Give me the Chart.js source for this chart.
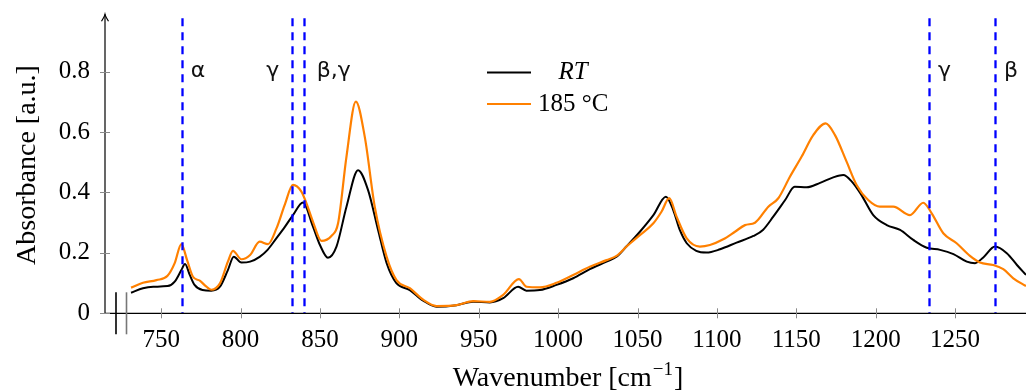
<!DOCTYPE html>
<html>
<head>
<meta charset="utf-8">
<script src="https://cdn.jsdelivr.net/npm/chart.js@4/dist/chart.umd.min.js"></script>
<style>
html,body{margin:0;padding:0;background:#fff;}
canvas{display:block;}
</style>
</head>
<body>
<canvas id="c" width="1026" height="392"></canvas>
<script>
// ---- data ----
const wavenumbersRT = [731, 738.5, 745, 754, 758.5, 762.7, 765, 768, 771, 776, 781.5, 787, 792, 795.7, 800.5, 806, 812, 817, 822.5, 828, 833, 839.3, 845.6, 850, 855, 860.4, 866.7, 874, 880.3, 886.6, 892, 898, 906.6, 915, 923.4, 936, 946.5, 957, 965.4, 974.8, 980, 988.5, 999, 1009.5, 1020, 1030.5, 1036.8, 1043, 1051.5, 1060, 1067.9, 1072.5, 1076.7, 1081, 1087, 1093.5, 1102, 1112.4, 1123, 1129, 1135.5, 1143, 1149, 1156.5, 1165, 1173.3, 1179.6, 1185, 1191, 1198.5, 1207, 1215.4, 1223.7, 1232.2, 1240.6, 1249, 1257.4, 1262.6, 1267.8, 1275.2, 1282.6, 1289, 1294.7];
const absorbanceRT = [0.068, 0.083, 0.088, 0.090, 0.105, 0.143, 0.163, 0.127, 0.094, 0.077, 0.075, 0.088, 0.143, 0.187, 0.168, 0.171, 0.187, 0.210, 0.248, 0.287, 0.325, 0.367, 0.287, 0.226, 0.184, 0.221, 0.353, 0.474, 0.408, 0.276, 0.166, 0.101, 0.077, 0.042, 0.022, 0.027, 0.038, 0.036, 0.050, 0.088, 0.075, 0.077, 0.094, 0.116, 0.146, 0.171, 0.187, 0.221, 0.270, 0.325, 0.386, 0.342, 0.275, 0.232, 0.207, 0.201, 0.212, 0.234, 0.256, 0.276, 0.320, 0.375, 0.419, 0.417, 0.432, 0.450, 0.458, 0.436, 0.392, 0.325, 0.292, 0.276, 0.243, 0.217, 0.210, 0.196, 0.171, 0.166, 0.185, 0.221, 0.199, 0.160, 0.127];

const wavenumbers185 = [731, 738.5, 747, 754, 758.5, 762.7, 766.3, 770, 774.3, 778.5, 781.6, 787, 792, 795.2, 800.5, 806, 812, 817.3, 822.6, 827.8, 833, 838.3, 841.5, 845.6, 850.9, 857.2, 861.4, 866.7, 872.6, 878.2, 884.5, 892, 898.2, 906.6, 915, 923.4, 936, 946.5, 957, 965.4, 975.3, 980.1, 988.5, 999, 1009.5, 1020, 1030.5, 1036.8, 1043.1, 1051.5, 1060, 1065.2, 1070, 1074.6, 1081, 1089.3, 1095.6, 1104, 1111.4, 1117.7, 1124, 1132.4, 1138.7, 1146, 1153.4, 1160.7, 1168.5, 1174.4, 1181.7, 1188, 1195.3, 1202.7, 1211.1, 1221.6, 1230, 1235.3, 1242.6, 1251, 1259.4, 1265.7, 1274.1, 1280.4, 1286.7, 1294.7];
const absorbance185 = [0.085, 0.101, 0.110, 0.124, 0.166, 0.229, 0.176, 0.121, 0.108, 0.088, 0.078, 0.099, 0.171, 0.207, 0.179, 0.193, 0.237, 0.229, 0.281, 0.359, 0.425, 0.403, 0.364, 0.303, 0.240, 0.256, 0.298, 0.519, 0.701, 0.585, 0.353, 0.187, 0.110, 0.083, 0.045, 0.024, 0.027, 0.040, 0.038, 0.061, 0.113, 0.088, 0.086, 0.101, 0.127, 0.154, 0.176, 0.190, 0.221, 0.259, 0.298, 0.337, 0.381, 0.320, 0.248, 0.221, 0.226, 0.245, 0.270, 0.292, 0.300, 0.353, 0.381, 0.452, 0.519, 0.590, 0.629, 0.590, 0.502, 0.425, 0.375, 0.353, 0.353, 0.325, 0.366, 0.331, 0.265, 0.232, 0.190, 0.168, 0.160, 0.146, 0.116, 0.090];

const xTickValues = [750, 800, 850, 900, 950, 1000, 1050, 1100, 1150, 1200, 1250];
const yTickValues = [0, 0.2, 0.4, 0.6, 0.8];
const yTickLabels = ['0', '0.2', '0.4', '0.6', '0.8'];
const bandPositions = [763, 832.5, 839.8, 1233.6, 1275.2];
const bandLabels = ['α', 'γ', 'β,γ', 'γ', 'β'];
const seriesNames = ['RT', '185 °C'];
const xTitle = 'Wavenumber [cm';
const xTitleSup = '−1';
const yTitle = 'Absorbance [a.u.]';

// ---- styling ----
const SERIF = '"Liberation Serif", "DejaVu Serif", serif';
const BLACK = '#000000';
const ORANGE = 'rgb(255,128,0)';
const BLUE = '#0000ff';
const TICKGRAY = '#8a8a8a';
// label placement relative to each band line: [dx, align]
const bandLabelPlacement = [[9, 'left'], [-13, 'right'], [13, 'left'], [9, 'left'], [9, 'left']];

const toPoints = (xs, ys) => xs.map((x, i) => ({x: x, y: ys[i]}));

const decorations = {
  id: 'decorations',
  afterDatasetsDraw(chart) {
    const ctx = chart.ctx;
    const xs = chart.scales.x, ys = chart.scales.y;
    const a = chart.chartArea;
    const y0 = ys.getPixelForValue(0);
    const xAxisX = a.left;
    ctx.save();

    // band lines
    ctx.strokeStyle = BLUE;
    ctx.lineWidth = 2.3;
    ctx.setLineDash([8, 6]);
    bandPositions.forEach((w) => {
      const px = Math.round(xs.getPixelForValue(w)) + 0.5;
      ctx.beginPath();
      ctx.moveTo(px, a.top + 1);
      ctx.lineTo(px, y0);
      ctx.stroke();
    });
    ctx.setLineDash([]);

    // band labels
    ctx.fillStyle = '#111';
    ctx.font = '22px "DejaVu Sans", sans-serif';
    ctx.textBaseline = 'middle';
    bandPositions.forEach((w, i) => {
      const px = xs.getPixelForValue(w);
      const pl = bandLabelPlacement[i];
      ctx.textAlign = pl[1];
      ctx.fillText(bandLabels[i], px + pl[0], 71);
    });

    // axes lines
    ctx.strokeStyle = BLACK;
    ctx.lineWidth = 1.2;
    ctx.beginPath();
    ctx.moveTo(xAxisX, y0);
    ctx.lineTo(chart.width, y0);
    ctx.stroke();
    ctx.beginPath();
    ctx.moveTo(xAxisX, y0);
    ctx.lineTo(xAxisX, a.top - 3);
    ctx.stroke();
    // arrow head
    ctx.beginPath();
    ctx.moveTo(xAxisX - 3.5, a.top + 4);
    ctx.quadraticCurveTo(xAxisX - 0.5, a.top - 1, xAxisX, a.top - 3);
    ctx.quadraticCurveTo(xAxisX + 0.5, a.top - 1, xAxisX + 3.5, a.top + 4);
    ctx.stroke();

    // ticks
    ctx.strokeStyle = TICKGRAY;
    ctx.lineWidth = 1;
    yTickValues.forEach((v) => {
      const py = Math.round(ys.getPixelForValue(v)) + 0.5;
      ctx.beginPath();
      ctx.moveTo(xAxisX - 5, py);
      ctx.lineTo(xAxisX + 5, py);
      ctx.stroke();
    });
    xTickValues.forEach((v) => {
      const px = Math.round(xs.getPixelForValue(v)) + 0.5;
      ctx.beginPath();
      ctx.moveTo(px, y0 - 5);
      ctx.lineTo(px, y0 + 5);
      ctx.stroke();
    });

    // axis break marks
    ctx.lineWidth = 1.6;
    ctx.strokeStyle = BLACK;
    ctx.beginPath();
    ctx.moveTo(xAxisX + 11, y0 - 21);
    ctx.lineTo(xAxisX + 11, y0 + 21);
    ctx.stroke();
    ctx.strokeStyle = '#777';
    ctx.beginPath();
    ctx.moveTo(xAxisX + 21.5, y0 - 21);
    ctx.lineTo(xAxisX + 21.5, y0 + 21);
    ctx.stroke();

    // legend
    const legendRows = [72.5, 104];
    ctx.lineWidth = 2;
    legendRows.forEach((ry, i) => {
      ctx.strokeStyle = chart.data.datasets[i].borderColor;
      ctx.beginPath();
      ctx.moveTo(487, ry);
      ctx.lineTo(531, ry);
      ctx.stroke();
    });
    ctx.fillStyle = BLACK;
    ctx.textBaseline = 'middle';
    ctx.textAlign = 'center';
    ctx.font = 'italic 25px ' + SERIF;
    ctx.fillText(seriesNames[0], 573, 72);
    ctx.textAlign = 'left';
    ctx.font = '25px ' + SERIF;
    ctx.fillText(seriesNames[1], 538, 104);

    // axis titles
    ctx.font = '28px ' + SERIF;
    ctx.textBaseline = 'alphabetic';
    ctx.save();
    ctx.translate(35, 165);
    ctx.rotate(-Math.PI / 2);
    ctx.textAlign = 'center';
    ctx.fillText(yTitle, 0, 0);
    ctx.restore();

    const w1 = ctx.measureText(xTitle).width;
    ctx.font = '19px ' + SERIF;
    const w2 = ctx.measureText(xTitleSup).width;
    ctx.font = '28px ' + SERIF;
    const w3 = ctx.measureText(']').width;
    const total = w1 + w2 + 2 + w3;
    let sx = 568 - total / 2;
    ctx.textAlign = 'left';
    ctx.fillText(xTitle, sx, 386);
    sx += w1 + 1;
    ctx.font = '19px ' + SERIF;
    ctx.fillText(xTitleSup, sx, 375);
    sx += w2 + 1;
    ctx.font = '28px ' + SERIF;
    ctx.fillText(']', sx, 386);

    ctx.restore();
  }
};

new Chart(document.getElementById('c'), {
  type: 'line',
  data: {
    datasets: [
      {label: seriesNames[0], data: toPoints(wavenumbersRT, absorbanceRT), borderColor: BLACK, borderWidth: 2, pointRadius: 0, fill: false, cubicInterpolationMode: 'monotone', order: 1},
      {label: seriesNames[1], data: toPoints(wavenumbers185, absorbance185), borderColor: ORANGE, borderWidth: 2.2, pointRadius: 0, fill: false, cubicInterpolationMode: 'monotone', order: 0}
    ]
  },
  options: {
    responsive: false,
    animation: false,
    devicePixelRatio: 1,
    layout: {padding: {left: 0, right: 0, top: 17.3, bottom: 0}},
    plugins: {legend: {display: false}, tooltip: {enabled: false}},
    scales: {
      x: {
        type: 'linear',
        min: 714.6,
        max: 1294.7,
        grid: {display: false, drawTicks: false},
        border: {display: false},
        afterBuildTicks: (s) => { s.ticks = xTickValues.map(v => ({value: v})); },
        afterFit: (s) => { s.height = 78.7; s.paddingLeft = 0; s.paddingRight = 0; s.paddingTop = 0; s.paddingBottom = 0; },
        ticks: {
          color: BLACK,
          padding: 12,
          maxRotation: 0,
          autoSkip: false,
          font: {family: SERIF, size: 25},
          callback: (v) => String(v)
        }
      },
      y: {
        type: 'linear',
        min: 0,
        max: 0.98,
        grid: {display: false, drawTicks: false},
        border: {display: false},
        afterBuildTicks: (s) => { s.ticks = yTickValues.map(v => ({value: v})); },
        afterFit: (s) => { s.width = 105; s.paddingLeft = 0; s.paddingRight = 0; s.paddingTop = 0; s.paddingBottom = 0; },
        ticks: {
          color: BLACK,
          padding: 15,
          font: {family: SERIF, size: 25},
          callback: (v) => { const i = yTickValues.indexOf(v); return i >= 0 ? yTickLabels[i] : ''; }
        }
      }
    }
  },
  plugins: [decorations]
});
</script>
</body>
</html>
